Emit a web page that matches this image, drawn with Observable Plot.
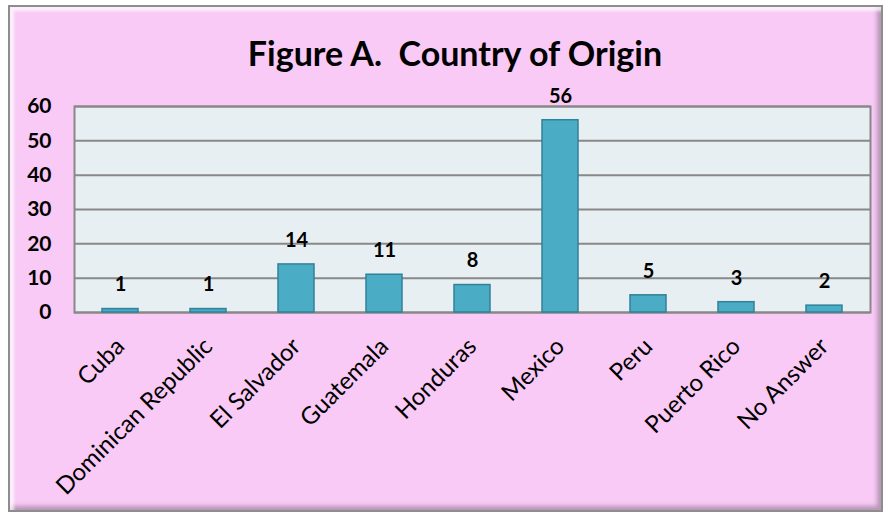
<!DOCTYPE html>
<html>
<head>
<meta charset="utf-8">
<script src="https://cdn.jsdelivr.net/npm/d3@7"></script>
<script src="https://cdn.jsdelivr.net/npm/@observablehq/plot@0.6"></script>
<style>
  html, body { margin: 0; padding: 0; background: #ffffff; }
  #wrap { position: relative; width: 888px; height: 517px; overflow: hidden; background: #fff; }
  #frame { position: absolute; left: 8px; top: 5px; width: 871px; height: 503px;
    background: #F8CAF5; border: 2px solid #8d8d8d;
    box-shadow: inset 4px 4px 3px rgba(255,255,255,0.7), inset -4px -4px 4px rgba(120,100,120,0.5); }
  #title { position: absolute; left: 0; width: 910px; top: 32px; text-align: center;
    font-family: Lato, sans-serif; font-weight: bold; font-size: 34px; color: #000; white-space: pre; }
  #chart { position: absolute; left: 0; top: 0; }
</style>
</head>
<body>
<div id="wrap">
  <div id="frame"></div>
  <div id="title">Figure A.  Country of Origin</div>
  <div id="chart"></div>
</div>
<script>
const countries = ["Cuba", "Dominican Republic", "El Salvador", "Guatemala", "Honduras", "Mexico", "Peru", "Puerto Rico", "No Answer"];
const counts = [1, 1, 14, 11, 8, 56, 5, 3, 2];
const yTicks = [0, 10, 20, 30, 40, 50, 60];

const data = countries.map((c, i) => ({country: c, count: counts[i]}));

const chart = Plot.plot({
  width: 888,
  height: 517,
  marginLeft: 74,
  marginRight: 18,
  marginTop: 106,
  marginBottom: 205,
  style: {background: "transparent", fontFamily: "Lato, sans-serif", color: "#000"},
  x: {domain: countries, paddingInner: 0.59, paddingOuter: 0.295, label: null},
  y: {domain: [0, 60], label: null},
  marks: [
    Plot.frame({fill: "#E8EFF3", stroke: "none"}),
    Plot.gridY(yTicks, {stroke: "#888", strokeOpacity: 1, strokeWidth: 2}),
    Plot.frame({stroke: "#888", strokeWidth: 2}),
    Plot.barY(data, {x: "country", y: "count", fill: "#4BACC6", stroke: "#2F8299", strokeWidth: 1.5}),
    Plot.text(data, {x: "country", y: "count", text: d => String(d.count), dy: -24, fontWeight: "bold", fontSize: 20, fill: "#000"}),
    Plot.axisY(yTicks, {tickSize: 0, tickPadding: 23, fontWeight: "bold", fontSize: 21, label: null}),
    Plot.axisX({tickSize: 0, tickRotate: -45, tickPadding: 30, dx: 0, fontSize: 24, label: null})
  ]
});
document.getElementById("chart").appendChild(chart);
</script>
</body>
</html>
